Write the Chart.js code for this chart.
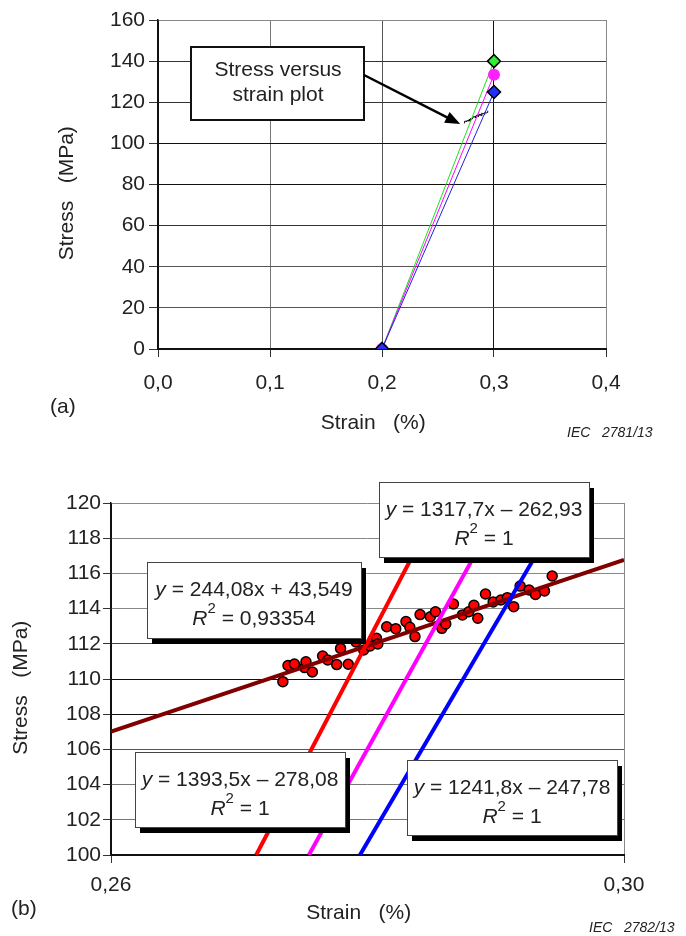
<!DOCTYPE html>
<html>
<head>
<meta charset="utf-8">
<script src="https://cdn.jsdelivr.net/npm/chart.js@4.4.1/dist/chart.umd.min.js"></script>
<style>
  html, body { margin: 0; padding: 0; background: #fff; }
  body { width: 686px; height: 936px; position: relative; overflow: hidden;
         font-family: "Liberation Sans", Arial, sans-serif; color: #222; }
  canvas { position: absolute; left: 0; }
  #chartA { top: 0; }
  #chartB { top: 440px; }
  .lbl { position: absolute; font-size: 21px; line-height: 24px; }
  .iec { position: absolute; font-size: 14px; line-height: 16px; font-style: italic; white-space: pre; }
</style>
</head>
<body>
<canvas id="chartA" width="686" height="440"></canvas>
<canvas id="chartB" width="686" height="496"></canvas>
<div class="lbl" style="left:50px;top:394px">(a)</div>
<div class="iec" style="left:567px;top:424px">IEC   2781/13</div>
<div class="lbl" style="left:11px;top:896px">(b)</div>
<div class="iec" style="left:589px;top:919px">IEC   2782/13</div>
<script>
const FONT = '"Liberation Sans", Arial, sans-serif';
const INK = '#222';
Chart.defaults.font.family = FONT;
Chart.defaults.color = INK;

// measured stress-strain points (strain %, stress MPa)
const strain = [0.2734, 0.2738, 0.2743, 0.2751, 0.2752, 0.2757, 0.2765, 0.2769, 0.2776, 0.2779,
                0.2785, 0.2791, 0.2797, 0.2802, 0.2807, 0.2808, 0.2815, 0.2822, 0.2830, 0.2833,
                0.2837, 0.2841, 0.2849, 0.2853, 0.2858, 0.2861, 0.2867, 0.2874, 0.2879, 0.2883,
                0.2886, 0.2892, 0.2898, 0.2904, 0.2909, 0.2914, 0.2919, 0.2926, 0.2931, 0.2938, 0.2944];
const stress = [109.85, 110.77, 110.85, 110.65, 110.98, 110.40, 111.31, 111.08, 110.82, 111.74,
                110.84, 112.10, 111.65, 111.88, 112.31, 111.99, 112.97, 112.86, 113.26, 112.94,
                112.41, 113.66, 113.54, 113.82, 112.88, 113.13, 114.26, 113.64, 113.82, 114.19,
                113.45, 114.83, 114.38, 114.49, 114.62, 114.11, 115.28, 115.06, 114.80, 115.00, 115.85];

// (a) overview: secant lines from 0,2 % to 0,3 %
const overviewStrain = [0.2, 0.3];
const greenStress = [0, 140];
const magentaStress = [0, 133.4];
const blueStress = [0, 125];

// (b) fitted lines, end points
const redFitX = [0.27132, 0.28567];
const redFitY = [100, 120];
const magentaFitX = [0.27543, 0.29061];
const magentaFitY = [100, 120];
const blueFitX = [0.27941, 0.29552];
const blueFitY = [100, 120];
const trendX = [0.26, 0.30];
const trendY = [107.01, 116.77];

// tick values
const xTicksA = [0, 0.1, 0.2, 0.3, 0.4];
const yTicksA = [0, 20, 40, 60, 80, 100, 120, 140, 160];
const xTicksB = [0.26, 0.30];
const yTicksB = [100, 102, 104, 106, 108, 110, 112, 114, 116, 118, 120];

// equation labels
const eqTexts = [' = 1317,7x – 262,93', ' = 244,08x + 43,549', ' = 1393,5x – 278,08', ' = 1241,8x – 247,78'];
const r2Texts = [' = 1', ' = 0,93354', ' = 1', ' = 1'];

// grid shades (scanned original has uneven grey lines)
const gridAx = ['#111', '#777', '#555', '#111', '#888'];
const gridAy = ['#111', '#555', '#555', '#333', '#111', '#111', '#333', '#333', '#888'];
const gridBx = ['#111', '#888'];
const gridBy = ['#111', '#777', '#777', '#555', '#111', '#111', '#444', '#888', '#888', '#888', '#888'];

const pts = (xs, ys) => xs.map((x, i) => ({x: x, y: ys[i]}));
const comma = d => v => v.toFixed(d).replace('.', ',');
const tickFont = {size: 21};

const annotA = {
  id: 'annotA',
  afterDraw(chart) {
    const c = chart.ctx;
    const sx = chart.scales.x, sy = chart.scales.y;
    c.save();
    c.fillStyle = '#fff';
    c.fillRect(191, 47, 173, 73);
    c.lineWidth = 2;
    c.strokeStyle = '#111';
    c.strokeRect(191, 47, 173, 73);
    c.fillStyle = INK;
    c.font = '21px ' + FONT;
    c.textAlign = 'center';
    c.textBaseline = 'middle';
    c.fillText('Stress versus', 278, 70);
    c.fillText('strain plot', 278, 95);
    // arrow to the measured points
    const tx = sx.getPixelForValue(strain[0]) - 4;
    const ty = sy.getPixelForValue(stress[0]) + 1;
    const ax = 364, ay = 75;
    const ang = Math.atan2(ty - ay, tx - ax);
    c.strokeStyle = '#000';
    c.lineWidth = 2.5;
    c.beginPath();
    c.moveTo(ax, ay);
    c.lineTo(tx - 12 * Math.cos(ang), ty - 12 * Math.sin(ang));
    c.stroke();
    c.fillStyle = '#000';
    c.beginPath();
    c.moveTo(tx, ty);
    c.lineTo(tx - 15 * Math.cos(ang) + 6 * Math.sin(ang), ty - 15 * Math.sin(ang) - 6 * Math.cos(ang));
    c.lineTo(tx - 15 * Math.cos(ang) - 6 * Math.sin(ang), ty - 15 * Math.sin(ang) + 6 * Math.cos(ang));
    c.closePath();
    c.fill();
    c.restore();
  }
};

function drawParts(c, cx, cy, parts) {
  let w = 0;
  parts.forEach(p => { c.font = p.f; w += c.measureText(p.t).width; });
  let x = cx - w / 2;
  parts.forEach(p => {
    c.font = p.f;
    c.fillText(p.t, x, cy + (p.dy || 0));
    x += c.measureText(p.t).width;
  });
}

const boxesB = [
  {x: 379, y: 42, w: 210, h: 75},
  {x: 147, y: 122, w: 214, h: 76},
  {x: 135, y: 312, w: 210, h: 75},
  {x: 407, y: 320, w: 210, h: 75}
];

const annotB = {
  id: 'annotB',
  afterDraw(chart) {
    const c = chart.ctx;
    c.save();
    boxesB.forEach((b, i) => {
      c.fillStyle = '#000';
      c.fillRect(b.x + 5, b.y + 6, b.w, b.h);
      c.fillStyle = '#fff';
      c.fillRect(b.x, b.y, b.w, b.h);
      c.strokeStyle = '#444';
      c.lineWidth = 1;
      c.strokeRect(b.x + 0.5, b.y + 0.5, b.w, b.h);
      c.fillStyle = INK;
      c.textAlign = 'left';
      c.textBaseline = 'middle';
      const cx = b.x + b.w / 2;
      drawParts(c, cx, b.y + 28, [
        {t: 'y', f: 'italic 21px ' + FONT},
        {t: eqTexts[i], f: '21px ' + FONT}
      ]);
      drawParts(c, cx, b.y + 57, [
        {t: 'R', f: 'italic 21px ' + FONT},
        {t: '2', f: '15px ' + FONT, dy: -10},
        {t: r2Texts[i], f: '21px ' + FONT}
      ]);
    });
    c.restore();
  }
};

new Chart(document.getElementById('chartA'), {
  type: 'scatter',
  data: {
    datasets: [
      {data: pts(overviewStrain, blueStress), showLine: true, borderColor: '#2020e0', borderWidth: 1,
       pointStyle: 'rectRot', pointRadius: 6.5, pointBackgroundColor: '#2030ff',
       pointBorderColor: '#000', pointBorderWidth: 1.5},
      {data: pts(overviewStrain, magentaStress), showLine: true, borderColor: '#ff00ff', borderWidth: 1,
       pointStyle: 'circle', pointRadius: 6, pointBackgroundColor: '#ff20ff', pointBorderWidth: 0},
      {data: pts(overviewStrain, greenStress), showLine: true, borderColor: '#20e020', borderWidth: 1,
       pointStyle: 'rectRot', pointRadius: 6.5, pointBackgroundColor: '#30ee30',
       pointBorderColor: '#000', pointBorderWidth: 1.5},
      {data: pts(strain, stress), showLine: true, borderColor: '#000', borderWidth: 1, pointRadius: 0}
    ]
  },
  options: {
    responsive: false,
    animation: false,
    events: [],
    layout: {autoPadding: false, padding: {left: 0, right: 80, top: 20, bottom: 0}},
    plugins: {legend: {display: false}, tooltip: {enabled: false}},
    scales: {
      x: {
        type: 'linear', min: 0, max: 0.4,
        afterBuildTicks: s => { s.ticks = xTicksA.map(v => ({value: v})); },
        afterFit: s => { s.height = 91; },
        ticks: {font: tickFont, color: INK, padding: 14, callback: comma(1)},
        grid: {color: ctx => gridAx[ctx.index], tickLength: 8, tickColor: '#333'},
        border: {color: '#111', width: 2},
        title: {display: true, text: 'Strain   (%)   ', font: tickFont, color: INK, padding: {top: 0, bottom: 4}}
      },
      y: {
        min: 0, max: 160,
        afterBuildTicks: s => { s.ticks = yTicksA.map(v => ({value: v})); },
        afterFit: s => { s.width = 158; },
        ticks: {font: tickFont, color: INK, padding: 4},
        grid: {color: ctx => gridAy[ctx.index], tickLength: 9, tickColor: '#333'},
        border: {color: '#111', width: 1.5},
        title: {display: true, text: 'Stress   (MPa)   ', font: tickFont, color: INK, padding: {top: 55, bottom: 0}}
      }
    }
  },
  plugins: [annotA]
});

new Chart(document.getElementById('chartB'), {
  type: 'scatter',
  data: {
    datasets: [
      {data: pts(blueFitX, blueFitY), showLine: true, borderColor: '#0000ff', borderWidth: 4, pointRadius: 0},
      {data: pts(magentaFitX, magentaFitY), showLine: true, borderColor: '#ff00ff', borderWidth: 4, pointRadius: 0},
      {data: pts(redFitX, redFitY), showLine: true, borderColor: '#ff0000', borderWidth: 4, pointRadius: 0},
      {data: pts(trendX, trendY), showLine: true, borderColor: '#800000', borderWidth: 4, pointRadius: 0},
      {data: pts(strain, stress), pointRadius: 5, pointBackgroundColor: '#ff0000',
       pointBorderColor: '#000', pointBorderWidth: 1.5}
    ]
  },
  options: {
    responsive: false,
    animation: false,
    events: [],
    layout: {autoPadding: false, padding: {left: 0, right: 62, top: 63, bottom: 0}},
    plugins: {legend: {display: false}, tooltip: {enabled: false}},
    scales: {
      x: {
        type: 'linear', min: 0.26, max: 0.30,
        afterBuildTicks: s => { s.ticks = xTicksB.map(v => ({value: v})); },
        afterFit: s => { s.height = 81; },
        ticks: {font: tickFont, color: INK, padding: 10, callback: comma(2)},
        grid: {color: ctx => gridBx[ctx.index], tickLength: 8, tickColor: '#333'},
        border: {color: '#111', width: 2},
        title: {display: true, text: 'Strain   (%)   ', font: tickFont, color: INK, padding: {top: 0, bottom: 10}}
      },
      y: {
        min: 100, max: 120,
        afterBuildTicks: s => { s.ticks = yTicksB.map(v => ({value: v})); },
        afterFit: s => { s.width = 111; },
        ticks: {font: tickFont, color: INK, padding: 2},
        grid: {color: ctx => gridBy[ctx.index], tickLength: 8, tickColor: '#333'},
        border: {color: '#111', width: 1.5},
        title: {display: true, text: 'Stress   (MPa)   ', font: tickFont, color: INK, padding: {top: 9, bottom: 0}}
      }
    }
  },
  plugins: [annotB]
});
</script>
</body>
</html>
